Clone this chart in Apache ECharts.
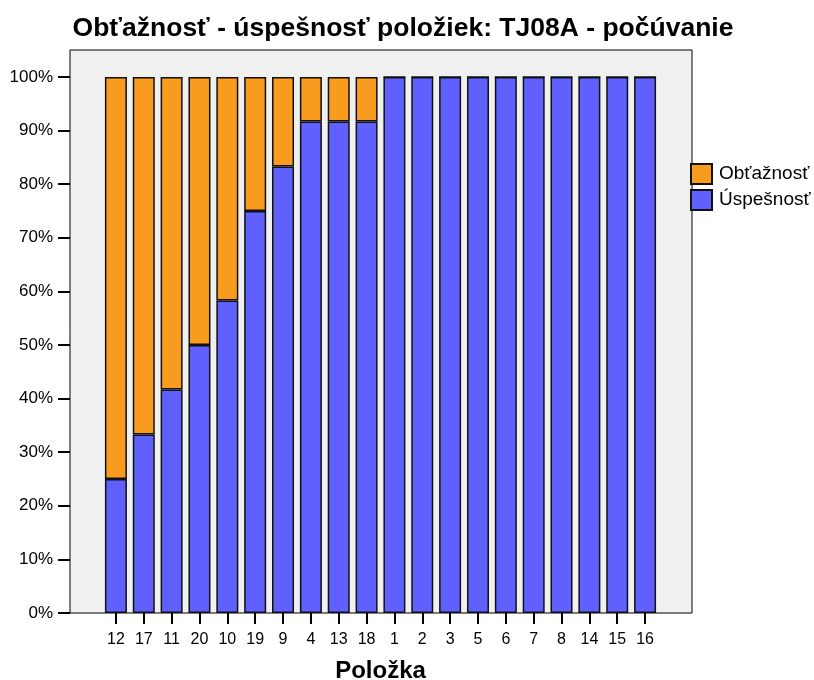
<!DOCTYPE html>
<html>
<head>
<meta charset="utf-8">
<script src="https://cdn.jsdelivr.net/npm/echarts@6/dist/echarts.min.js"></script>
<style>html,body{margin:0;padding:0;background:#fff}#c{width:814px;height:680px}</style>
</head>
<body>
<div id="c"></div>
<script>
var categories = ['12','17','11','20','10','19','9','4','13','18','1','2','3','5','6','7','8','14','15','16'];
var successValues = [25, 33.3, 41.7, 50, 58.3, 75, 83.3, 91.7, 91.7, 91.7, 100, 100, 100, 100, 100, 100, 100, 100, 100, 100];
var difficultyValues = [75, 66.7, 58.3, 50, 41.7, 25, 16.7, 8.3, 8.3, 8.3, 0, 0, 0, 0, 0, 0, 0, 0, 0, 0];
var yTicks = [0, 10, 20, 30, 40, 50, 60, 70, 80, 90, 100];

var font = 'Liberation Sans, Arial, sans-serif';
var chart = echarts.init(document.getElementById('c'));
chart.setOption({
  animation: false,
  title: {
    text: 'Obťažnosť - úspešnosť položiek: TJ08A - počúvanie',
    left: 398, textAlign: 'center', top: 10,
    textStyle: {fontFamily: font, fontSize: 26.5, fontWeight: 'bold', color: '#000'}
  },
  legend: {
    data: ['Obťažnosť', 'Úspešnosť'],
    orient: 'vertical', left: 690, top: 163, padding: 0,
    itemWidth: 21, itemHeight: 20, itemGap: 4,
    textStyle: {fontFamily: font, fontSize: 19, color: '#000', padding: [0, 0, 0, 2]},
    icon: 'rect'
  },
  grid: [
    {left: 70, top: 50, width: 622, height: 563, show: true, backgroundColor: '#f0f0f0', borderColor: '#000', borderWidth: 1, outerBoundsMode: 'none'},
    {left: 102, top: 77, width: 557, height: 536, outerBoundsMode: 'none'}
  ],
  xAxis: [
    {gridIndex: 0, type: 'value', show: false, min: 0, max: 1},
    {gridIndex: 1, type: 'category', data: categories,
     axisLine: {show: false},
     axisTick: {show: true, alignWithLabel: true, length: 11, lineStyle: {color: '#000', width: 2}},
     axisLabel: {color: '#000', fontFamily: font, fontSize: 16, margin: 19},
     name: 'Položka', nameLocation: 'middle', nameGap: 46,
     nameTextStyle: {fontFamily: font, fontSize: 24, fontWeight: 'bold', color: '#000'}
    }
  ],
  yAxis: [
    {gridIndex: 0, type: 'value', show: false, min: 0, max: 1},
    {gridIndex: 1, type: 'value', min: 0, max: 100, interval: 10, offset: 32,
     axisLine: {show: false},
     axisTick: {show: true, length: 12, lineStyle: {color: '#000', width: 2}},
     splitLine: {show: false},
     axisLabel: {color: '#000', fontFamily: font, fontSize: 17, margin: 17,
       formatter: function (v) { return yTicks.indexOf(v) >= 0 ? v + '%' : ''; }}
    }
  ],
  series: [
    {name: 'Úspešnosť', type: 'bar', stack: 's', xAxisIndex: 1, yAxisIndex: 1, data: successValues,
     barWidth: 22,
     itemStyle: {color: '#6060ff', borderColor: '#111', borderWidth: 1.5}},
    {name: 'Obťažnosť', type: 'bar', stack: 's', xAxisIndex: 1, yAxisIndex: 1, data: difficultyValues,
     barWidth: 22,
     itemStyle: {color: '#f99b1e', borderColor: '#111', borderWidth: 1.5}}
  ]
});
</script>
</body>
</html>
